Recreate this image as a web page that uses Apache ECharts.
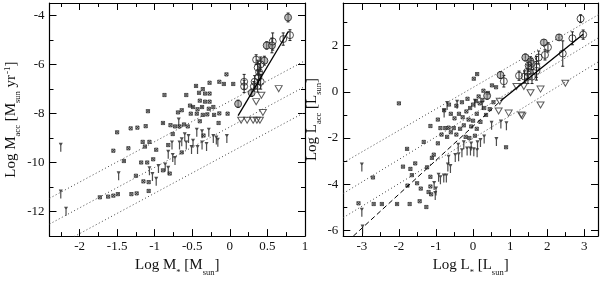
<!DOCTYPE html>
<html><head><meta charset="utf-8">
<script src="https://cdn.jsdelivr.net/npm/echarts@6/dist/echarts.min.js"></script>
<style>html,body{margin:0;padding:0;background:#fff}#c{width:600px;height:282px}</style>
</head><body><div id="c"></div>
<script>
// ---------- LEFT PANEL DATA: Log M* vs Log Macc ----------
const leftCrosses = [
[-0.045,-6.41],[-0.14,-6.71],[0.045,-6.8],[-0.08,-6.8],[-0.27,-6.75],[-0.45,-6.88],[-0.36,-7.01],
[-0.41,-7.16],[-0.33,-7.19],[-0.27,-7.19],[-0.58,-7.25],[-0.87,-7.25],[-0.40,-7.48],[-0.33,-7.52],
[-0.27,-7.52],[-0.53,-7.68],[-0.64,-7.87],[-0.69,-7.96],[-0.49,-7.74],[-0.43,-7.83],[-0.37,-7.74],
[-0.28,-7.81],[-0.22,-7.74],[-0.52,-8.01],[-0.44,-8.01],[-0.36,-8.06],[-0.30,-8.04],[-0.21,-8.06],
[-0.14,-8.0],[-0.03,-8.01],[-0.89,-8.39],[-0.79,-8.48],[-0.73,-8.53],[-0.67,-8.53],[-0.61,-8.45],
[-0.56,-8.53],[-1.09,-7.91],[-1.32,-8.61],[-1.23,-8.58],[-1.12,-8.52],[-1.5,-8.77],[-1.16,-9.16],
[-1.07,-9.16],[-1.13,-9.35],[-1.55,-9.52],[-1.35,-9.42],[-1.41,-9.94],[-1.18,-10.0],[-1.10,-10.0],
[-1.25,-10.54],[-1.15,-10.77],[-1.08,-10.8],[-0.89,-10.32],[-0.80,-10.45],[-1.73,-11.42],[-1.62,-11.39],
[-1.55,-11.35],[-1.49,-11.29],[-1.31,-11.29],[-1.24,-11.26],[-1.08,-11.16],[-0.40,-8.32],[-0.15,-8.39],
[-0.76,-8.84],[-0.35,-8.9],[-0.82,-9.29],[-0.98,-9.48],[-1.02,-9.87],[-0.64,-9.59]
];
const leftArrows = [
[-2.25,-9.2],[-2.25,-11.1],[-2.18,-11.8],[-1.48,-10.36],[-1.07,-10.15],[-1.03,-10.39],[-0.98,-10.58],
[-0.95,-10.06],[-0.86,-10.0],[-0.82,-10.13],[-0.76,-9.61],[-0.73,-9.74],[-0.82,-9.48],[-0.77,-9.1],
[-0.67,-9.1],[-0.64,-8.97],[-0.58,-9.1],[-0.49,-9.03],[-0.68,-8.17],[-0.60,-8.77],[-0.55,-8.84],
[-0.44,-8.58],[-0.37,-9.1],[-0.31,-9.16],[-0.43,-9.29],[-0.51,-9.29],[-0.22,-8.84],[-0.18,-8.9],
[-0.16,-8.99],[-0.04,-8.84],[-0.28,-8.58],[-0.37,-8.65]
];
// [x, y, error, grey]
const leftCircles = [
[0.775,-4.09,0.18,1],[0.80,-4.81,0.22,0],[0.71,-4.97,0.25,0],[0.49,-5.23,0.15,1],[0.56,-5.23,0.3,1],
[0.57,-5.07,0.35,0],[0.35,-5.81,0.2,0],[0.46,-5.85,0.18,1],[0.41,-6.0,0.3,0],[0.37,-6.13,0.3,0],
[0.39,-6.32,0.35,0],[0.38,-6.52,0.3,0],[0.33,-6.71,0.25,0],[0.41,-6.71,0.3,0],[0.37,-6.88,0.25,0],
[0.32,-6.9,0.2,0],[0.19,-6.71,0.3,0],[0.19,-6.9,0.25,0],[0.11,-7.61,0.15,1],[0.29,-7.16,0.15,1]
];
const leftTriangles = [
[0.42,-7.26],[0.35,-7.52],[0.65,-6.99],[0.44,-7.96],[0.15,-8.28],[0.23,-8.28],[0.31,-8.28],[0.36,-8.28],[0.40,-8.28]
];
const leftDottedUpper = [[-2.4,-11.46],[1.0,-5.85]];
const leftDottedMiddle = [[-2.4,-12.51],[1.0,-6.9]];
const leftDottedLower = [[-2.4,-13.56],[1.0,-7.95]];
const leftSolid = [[0.11,-8.09],[0.78,-4.65]];
const leftXMajor = [-2,-1.5,-1,-0.5,0,0.5,1];
const leftXMinor = [-2.25,-1.75,-1.25,-0.75,-0.25,0.25,0.75];
const leftYMajor = [-12,-10,-8,-6,-4];
const leftYMinor = [-13,-11,-9,-7,-5];

// ---------- RIGHT PANEL DATA: Log L* vs Log Lacc ----------
const rightCrosses = [
[-2.0,-0.5],[-2.7,-3.71],[-3.09,-4.83],[-2.68,-4.86],[-2.46,-4.86],[-2.05,-4.86],[-1.71,-4.86],
[-1.44,-4.74],[-1.26,-4.99],[-1.78,-2.47],[-1.89,-3.24],[-1.77,-4.06],[-1.69,-3.34],[-1.56,-3.1],
[-1.65,-3.61],[-1.51,-3.96],[-1.41,-4.19],[-1.33,-2.17],[-1.15,-3.68],[-1.11,-2.86],[-1.06,-2.72],
[-1.24,-3.27],[-1.15,-4.1],[-1.2,-4.34],[-1.13,-4.44],[-1.15,-1.48],[-0.95,-2.23],[-0.88,-1.57],
[-0.75,-1.57],[-0.66,-1.55],[-0.52,-1.57],[-0.85,-1.85],[-0.7,-1.95],[-0.6,-1.75],[-0.45,-1.85],
[-0.35,-1.6],[-0.25,-1.45],[-0.78,-0.8],[-0.6,-0.95],[-0.5,-1.15],[-0.38,-0.95],[-0.28,-1.1],
[-0.18,-0.85],[-0.08,-0.7],[0.0,-0.55],[0.08,-0.4],[0.15,-0.2],[-0.45,-0.6],[-0.3,-0.45],
[-0.15,-0.3],[0.02,0.57],[0.11,0.77],[0.51,0.28],[0.62,0.2],[0.28,0.05],[0.4,-0.05],[0.25,-0.35],
[0.18,-0.5],[0.1,-0.95],[0.0,-1.25],[-0.12,-1.2],[-0.05,-1.5],[0.1,-1.6],[0.2,-1.3],[0.35,-1.0],
[0.45,-0.75],[0.55,-0.45],[0.89,-2.4],[-0.2,-1.95],[-0.1,-2.0],[0.05,-1.9],[0.3,-0.7],[-0.95,-1.2],
[-0.65,-0.55]
];
const rightArrows = [
[-3.0,-3.06],[-3.0,-5.02],[-2.98,-5.75],[-1.05,-3.86],[-1.0,-4.1],[-1.02,-4.3],[-0.93,-3.5],
[-0.88,-3.61],[-0.79,-3.54],[-0.72,-3.54],[-0.68,-3.06],[-0.61,-3.13],[-0.66,-2.72],[-0.48,-2.65],
[-0.39,-2.62],[-0.3,-2.44],[-0.16,-2.37],[-0.07,-2.37],[0.02,-2.4],[0.11,-2.44],[-0.43,-0.34],
[-0.7,-0.4],[-0.78,-0.72],[0.63,-1.96],[0.9,-1.27],[0.5,-1.25],[0.75,-1.2],[0.3,-1.85],[0.2,-2.0],
[0.12,-2.1],[-0.05,-2.15],[-0.25,-2.1],[-0.4,-2.2],[0.25,-0.4],[0.05,-0.3]
];
const rightCircles = [
[2.9,3.17,0.17,0],[2.97,2.48,0.2,0],[2.68,2.32,0.28,0],[2.32,2.36,0.12,1],[1.91,2.14,0.12,1],
[2.02,1.93,0.2,0],[1.94,1.6,0.22,0],[1.77,1.49,0.28,0],[2.42,1.66,0.55,0],[1.41,1.49,0.15,1],
[1.55,1.32,0.2,1],[1.58,1.21,0.25,0],[1.5,1.14,0.25,0],[1.71,1.08,0.45,0],[1.71,0.91,0.4,0],
[1.46,0.87,0.3,0],[1.48,0.66,0.3,0],[1.39,0.66,0.25,0],[1.59,0.66,0.3,0],[1.24,0.7,0.2,0],
[0.74,0.73,0.15,1],[0.83,0.46,0.25,0],[0.38,-0.17,0.15,1]
];
const rightTriangles = [
[0.72,-0.41],[0.69,-0.83],[0.96,-0.92],[1.3,-1.0],[1.33,-1.04],[1.17,0.23],[1.37,0.23],[1.55,-0.04],
[1.82,0.12],[2.49,0.37],[1.82,-0.57]
];
const rightDottedUpper = [[-3.5,-3.07],[3.4,3.36]];
const rightDottedMiddle = [[-3.5,-4.4],[3.4,2.36]];
const rightDottedLower = [[-3.5,-5.45],[3.4,1.32]];
const rightDashed = [[-3.23,-6.25],[0.74,-0.4]];
const rightSolid = [[0.74,-0.4],[2.97,2.5]];
const rightXMajor = [-3,-2,-1,0,1,2,3];
const rightXMinor = [-2.5,-1.5,-0.5,0.5,1.5,2.5];
const rightYMajor = [-6,-4,-2,0,2];
const rightYMinor = [-5,-3,-1,1,3];

// ---------- STYLE ----------
const FONT = 'Liberation Serif';
const INK = '#111';
const richName = {
  m: {fontSize: 15, fontFamily: FONT, color: INK, lineHeight: 18, verticalAlign: 'top'},
  s: {fontSize: 8.5, fontFamily: FONT, color: INK, lineHeight: 9, padding: [10, 0, 0, 0], verticalAlign: 'top'},
  p: {fontSize: 9, fontFamily: FONT, color: INK, lineHeight: 9, padding: [0, 0, 0, 1], verticalAlign: 'top'}
};

function xAxes(grid, min, max, major, minor, name, gap) {
  const base = {type: 'value', gridIndex: grid, min, max, splitLine: {show: false}, scale: true};
  const mk = (pos, vals, len, isMain, label) => Object.assign({}, base, {
    position: pos,
    axisLine: {show: isMain, onZero: false, lineStyle: {color: '#000', width: 1.2}},
    axisTick: {show: true, inside: true, length: len, customValues: vals, lineStyle: {color: '#000', width: 1}},
    axisLabel: label ? {show: true, customValues: major, margin: 4, fontFamily: FONT, fontSize: 13, color: INK} : {show: false},
    name: label ? name : '', nameLocation: 'middle', nameGap: gap, nameTextStyle: {rich: richName}
  });
  return [mk('bottom', major, 7, true, true), mk('bottom', minor, 4, false, false),
          mk('top', major, 7, true, false), mk('top', minor, 4, false, false)];
}
function yAxes(grid, min, max, major, minor, name, gap) {
  const base = {type: 'value', gridIndex: grid, min, max, splitLine: {show: false}, scale: true};
  const mk = (pos, vals, len, isMain, label) => Object.assign({}, base, {
    position: pos,
    axisLine: {show: isMain, onZero: false, lineStyle: {color: '#000', width: 1.2}},
    axisTick: {show: true, inside: true, length: len, customValues: vals, lineStyle: {color: '#000', width: 1}},
    axisLabel: label ? {show: true, customValues: major, margin: 5, fontFamily: FONT, fontSize: 13, color: INK} : {show: false},
    name: label ? name : '', nameLocation: 'middle', nameGap: gap, nameRotate: 90, nameTextStyle: {rich: richName}
  });
  return [mk('left', major, 7, true, true), mk('left', minor, 4, false, false),
          mk('right', major, 7, true, false), mk('right', minor, 4, false, false)];
}

const CROSS = 'path://M0,0L10,0L10,10L0,10Z M0,0L10,10 M10,0L0,10';
const ARROW = 'path://M0,0L10,0L6.5,9L6.5,30L3.5,30L3.5,9Z';
const TRI = 'path://M0,0L10,0L5,9Z';

function panelSeries(ax, crosses, arrows, circles, tris, lines) {
  const s = [];
  lines.forEach(l => s.push({
    type: 'line', xAxisIndex: ax, yAxisIndex: ax, data: l.data, symbol: 'none', clip: true,
    silent: true, animation: false,
    lineStyle: {color: l.color, width: l.width, type: l.type}
  }));
  s.push({
    type: 'scatter', xAxisIndex: ax, yAxisIndex: ax, data: crosses, symbol: CROSS, symbolSize: 3.2,
    itemStyle: {color: 'rgba(60,60,60,0.35)', borderColor: '#222', borderWidth: 0.9}, animation: false
  });
  s.push({
    type: 'scatter', xAxisIndex: ax, yAxisIndex: ax, data: arrows, symbol: ARROW, symbolSize: [4, 9],
    symbolOffset: [0, '50%'], itemStyle: {color: '#222'}, animation: false
  });
  s.push({
    type: 'custom', xAxisIndex: ax, yAxisIndex: ax, animation: false,
    data: circles.map(c => [c[0], c[1], c[2]]),
    renderItem: (params, api) => {
      const x = api.value(0), y = api.value(1), e = api.value(2);
      const a = api.coord([x, y - e]), b = api.coord([x, y + e]);
      const st = {stroke: '#222', lineWidth: 1};
      return {type: 'group', children: [
        {type: 'line', shape: {x1: a[0], y1: a[1], x2: b[0], y2: b[1]}, style: st},
        {type: 'line', shape: {x1: a[0] - 1.5, y1: a[1], x2: a[0] + 1.5, y2: a[1]}, style: st},
        {type: 'line', shape: {x1: b[0] - 1.5, y1: b[1], x2: b[0] + 1.5, y2: b[1]}, style: st}
      ]};
    }
  });
  s.push({
    type: 'scatter', xAxisIndex: ax, yAxisIndex: ax, symbol: 'circle', symbolSize: 7, animation: false,
    data: circles.map(c => ({value: [c[0], c[1]], itemStyle: {color: c[3] ? 'rgba(140,140,140,0.75)' : 'rgba(255,255,255,0)', borderColor: '#222', borderWidth: 1}}))
  });
  s.push({
    type: 'scatter', xAxisIndex: ax, yAxisIndex: ax, data: tris, symbol: TRI, symbolSize: [7, 6],
    itemStyle: {color: 'rgba(255,255,255,0)', borderColor: '#333', borderWidth: 1}, animation: false
  });
  return s;
}

const dotted = (d) => ({data: d, color: '#444', width: 1, type: [1, 2.5]});

const option = {
  backgroundColor: '#fff',
  animation: false,
  grid: [
    {left: 49.5, top: 3, width: 255.5, height: 243.7},
    {left: 343.3, top: 3, width: 254.7, height: 243.7}
  ],
  xAxis: [
    ...xAxes(0, -2.4, 1.0, leftXMajor, leftXMinor, '{m|Log M}{s|*}{m| [M}{s|sun}{m|]}', 16),
    ...xAxes(1, -3.5, 3.37, rightXMajor, rightXMinor, '{m|Log L}{s|*}{m| [L}{s|sun}{m|]}', 16)
  ],
  yAxis: [
    ...yAxes(0, -13, -3.5, leftYMajor, leftYMinor, '{m|Log M}{s|acc}{m| [M}{s|sun}{m| yr}{p|-1}{m|]}', 28),
    ...yAxes(1, -6.25, 3.85, rightYMajor, rightYMinor, '{m|Log L}{s|acc}{m| [L}{s|sun}{m|]}', 21)
  ],
  series: [
    ...panelSeries(0, leftCrosses, leftArrows, leftCircles, leftTriangles, [
      dotted(leftDottedUpper), dotted(leftDottedMiddle), dotted(leftDottedLower),
      {data: leftSolid, color: '#000', width: 1.3, type: 'solid'}
    ]),
    ...panelSeries(4, rightCrosses, rightArrows, rightCircles, rightTriangles, [
      dotted(rightDottedUpper), dotted(rightDottedMiddle), dotted(rightDottedLower),
      {data: rightDashed, color: '#000', width: 1, type: [5, 3]},
      {data: rightSolid, color: '#000', width: 1.3, type: 'solid'}
    ])
  ]
};
const chart = echarts.init(document.getElementById('c'), null, {renderer: 'canvas'});
chart.setOption(option);
</script>
</body></html>
